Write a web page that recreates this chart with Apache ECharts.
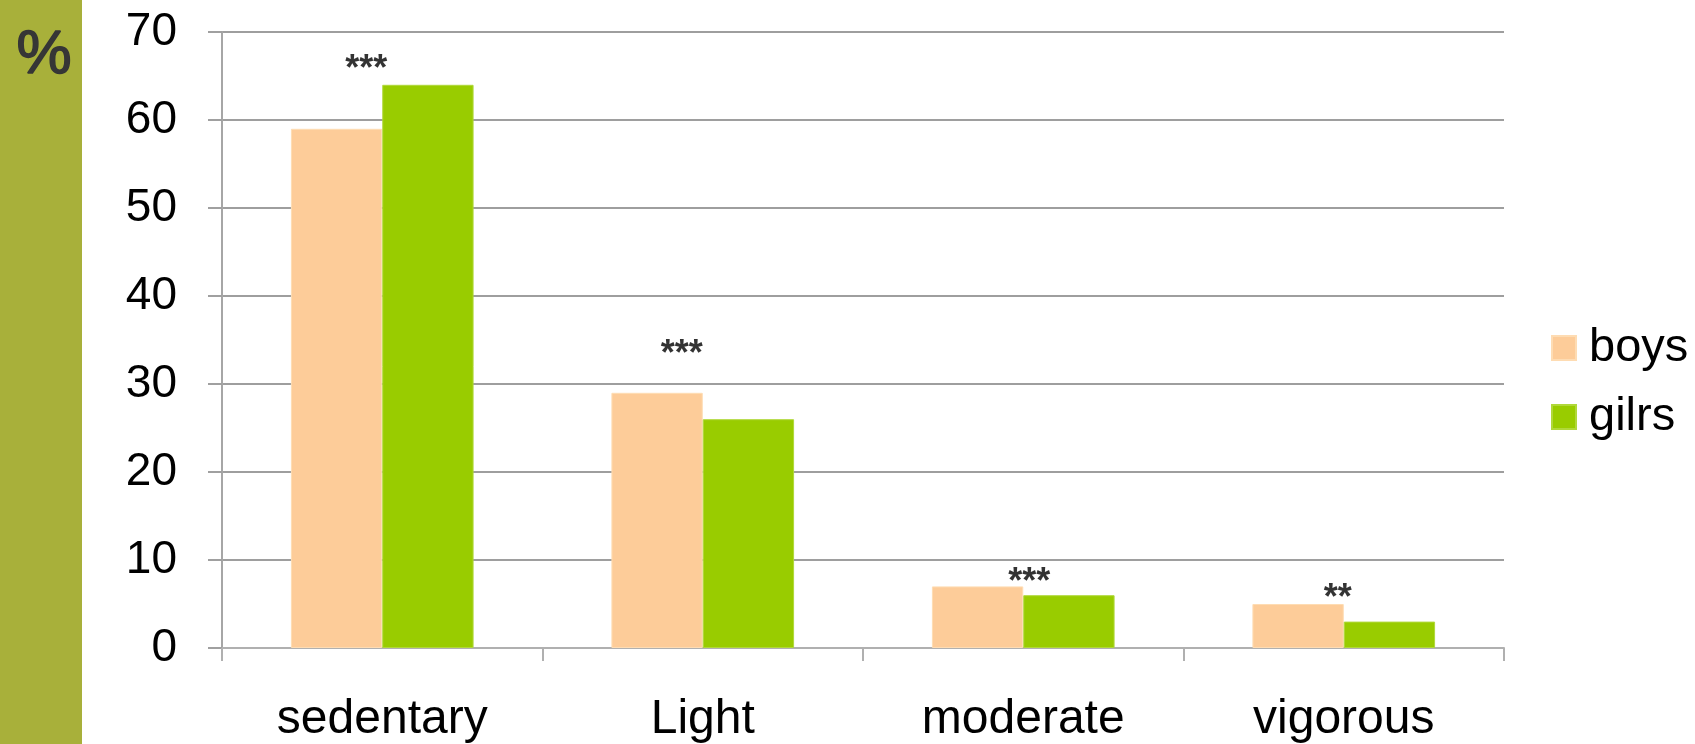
<!DOCTYPE html>
<html>
<head>
<meta charset="utf-8">
<style>
  html, body { margin: 0; padding: 0; background: #ffffff; }
  #chart { width: 1695px; height: 744px; }
</style>
<script src="https://cdn.jsdelivr.net/npm/echarts@6/dist/echarts.min.js"></script>
</head>
<body>
<div id="chart"></div>
<script>
// ---- data ----
const categories = ['sedentary', 'Light', 'moderate', 'vigorous'];
const boys = [59, 29, 7, 5];
const girls = [64, 26, 6, 3];
const seriesNames = ['boys', 'gilrs'];
const yTicks = { min: 0, max: 70, interval: 10 };
const significance = ['***', '***', '***', '**'];
const significanceLevel = [65.7, 33.3, 7.4, 5.6];

// ---- styles ----
const FONT = '"Liberation Sans", Arial, sans-serif';
const starOffsets = [[-16, 0], [-21, 0], [6, 0], [-6, 0]];

const chart = echarts.init(document.getElementById('chart'), null, { renderer: 'canvas' });

const option = {
  animation: false,
  backgroundColor: '#ffffff',
  textStyle: { fontFamily: FONT },
  grid: { left: 222, right: 191, top: 32, bottom: 96, containLabel: false },
  legend: {
    data: seriesNames,
    orient: 'vertical',
    left: 1546,
    top: 318,
    itemWidth: 24,
    itemHeight: 24,
    itemGap: 19,
    icon: 'rect',
    textStyle: { fontFamily: FONT, fontSize: 47, color: '#000', lineHeight: 50, padding: [0, 0, 0, 8] }
  },
  graphic: [
    { type: 'rect', left: 0, top: 0, shape: { width: 82, height: 744 }, style: { fill: '#a8b03a' }, z: -1 },
    { type: 'text', x: 44, y: 56, style: { text: '%', font: 'normal 62px ' + FONT, fill: '#363636', stroke: '#363636', lineWidth: 1.5, align: 'center', verticalAlign: 'middle' } }
  ],
  xAxis: {
    type: 'category',
    data: categories,
    axisLine: { show: true, lineStyle: { color: '#b0b0b0', width: 2 } },
    axisTick: { show: true, alignWithLabel: false, length: 13, lineStyle: { color: '#b0b0b0', width: 2 } },
    axisLabel: { fontFamily: FONT, fontSize: 48, color: '#000', margin: 48 },
    splitLine: { show: false }
  },
  yAxis: {
    type: 'value',
    min: yTicks.min,
    max: yTicks.max,
    interval: yTicks.interval,
    axisLine: { show: true, lineStyle: { color: '#a6a6a6', width: 2 } },
    axisTick: { show: true, inside: false, length: 14, lineStyle: { color: '#a0a0a0', width: 2 } },
    axisLabel: { fontFamily: FONT, fontSize: 46, color: '#000', margin: 45 },
    splitLine: { show: true, lineStyle: { color: '#9e9e9e', width: 2 } }
  },
  series: [
    {
      name: seriesNames[0],
      type: 'bar',
      data: boys,
      barGap: '0%',
      barCategoryGap: '43%',
      itemStyle: { color: '#fdcc99', borderColor: '#fedcb3', borderWidth: 1 }
    },
    {
      name: seriesNames[1],
      type: 'bar',
      data: girls,
      barGap: '0%',
      barCategoryGap: '43%',
      itemStyle: { color: '#99cc00', borderColor: '#b0d83a', borderWidth: 1 }
    },
    {
      name: 'significance',
      type: 'scatter',
      symbolSize: 0,
      silent: true,
      data: significanceLevel.map((v, i) => ({
        value: [i, v],
        label: { offset: starOffsets[i] }
      })),
      label: {
        show: true,
        position: 'inside',
        formatter: (p) => significance[p.dataIndex],
        fontFamily: FONT,
        fontWeight: 'bold',
        fontSize: 36,
        color: '#000'
      },
      z: 5
    }
  ]
};

chart.setOption(option);
</script>
</body>
</html>
